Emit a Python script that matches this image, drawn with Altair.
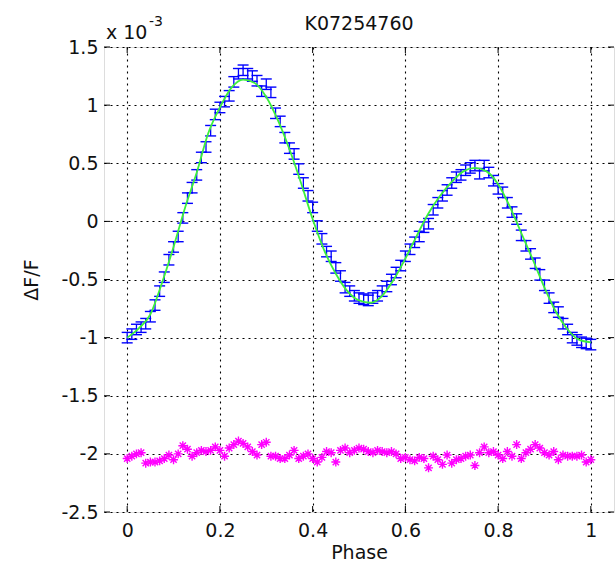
import altair as alt
import pandas as pd

# ---- data (values in units of 1e-3) ----
phase_blue = [i / 100 for i in range(101)]
flux_blue = [
    -1.00, -0.97, -0.93, -0.91, -0.88, -0.82, -0.72, -0.60, -0.48, -0.33,
    -0.22, -0.13, 0.03, 0.20, 0.29, 0.40, 0.55, 0.64, 0.78, 0.92,
    0.98, 1.03, 1.08, 1.20, 1.27, 1.30, 1.27, 1.25, 1.21, 1.12,
    1.18, 1.11, 0.93, 0.86, 0.72, 0.63, 0.58, 0.45, 0.33, 0.22,
    0.12, -0.04, -0.15, -0.26, -0.30, -0.40, -0.47, -0.57, -0.60, -0.64,
    -0.66, -0.67, -0.68, -0.66, -0.64, -0.60, -0.56, -0.50, -0.44, -0.38,
    -0.30, -0.24, -0.18, -0.13, -0.05, -0.02, 0.10, 0.16, 0.22, 0.27,
    0.33, 0.38, 0.40, 0.44, 0.46, 0.48, 0.41, 0.48, 0.42, 0.35,
    0.28, 0.25, 0.16, 0.08, 0.02, -0.12, -0.21, -0.28, -0.36, -0.46,
    -0.55, -0.66, -0.74, -0.78, -0.88, -0.93, -1.00, -1.02, -1.04, -1.05,
    -1.06,
]
err_blue = 0.045

phase_fit = [i * 0.025 for i in range(41)]
flux_fit = [
    -1.00, -0.92, -0.80, -0.53, -0.22, 0.12, 0.42, 0.76, 0.98, 1.15,
    1.22, 1.19, 1.07, 0.87, 0.62, 0.33, 0.02, -0.25, -0.45, -0.60,
    -0.68, -0.70, -0.64, -0.50, -0.32, -0.12, 0.07, 0.22, 0.34, 0.43,
    0.46, 0.43, 0.32, 0.13, -0.10, -0.33, -0.57, -0.78, -0.93, -1.02,
    -1.04,
]

phase_mag = [i / 100 for i in range(101)]
flux_mag = [
    -2.04, -2.02, -2.00, -1.99, -2.08, -2.07, -2.07, -2.06, -2.04, -2.01,
    -2.05, -2.00, -1.93, -1.96, -2.02, -1.99, -1.97, -1.98, -1.97, -1.94,
    -1.97, -2.02, -1.95, -1.92, -1.89, -1.91, -1.94, -1.98, -2.01, -1.92,
    -1.90, -2.02, -2.02, -2.04, -2.04, -2.01, -1.97, -2.04, -2.02, -2.00,
    -2.04, -2.07, -2.03, -1.98, -1.99, -2.07, -1.97, -1.95, -1.99, -1.97,
    -1.95, -1.96, -1.98, -1.99, -1.97, -1.98, -1.99, -1.98, -2.00, -2.04,
    -2.03, -2.05, -2.06, -2.03, -2.04, -2.12, -2.02, -2.05, -2.09, -2.01,
    -2.08, -2.05, -2.04, -2.02, -2.01, -2.10, -1.99, -1.94, -1.99, -1.98,
    -2.01, -2.04, -1.98, -2.02, -1.92, -2.04, -1.99, -1.96, -1.92, -1.95,
    -1.99, -2.01, -1.98, -2.05, -2.01, -2.02, -2.02, -2.02, -2.01, -2.07,
    -2.05,
]

x_ticks = [0, 0.2, 0.4, 0.6, 0.8, 1]
y_ticks = [-2.5, -2, -1.5, -1, -0.5, 0, 0.5, 1, 1.5]
title_text = ["K07254760"]

W, H = 510, 465
FONT = "DejaVu Sans"
FS = 19

blue_df = pd.DataFrame({"phase": phase_blue, "flux": flux_blue})
blue_df["lo"] = blue_df["flux"] - err_blue
blue_df["hi"] = blue_df["flux"] + err_blue
fit_df = pd.DataFrame({"phase": phase_fit, "flux": flux_fit})
mag_df = pd.DataFrame({"phase": phase_mag, "flux": flux_mag})
xt_df = pd.DataFrame({"v": x_ticks})
yt_df = pd.DataFrame({"v": y_ticks})

xscale = alt.Scale(domain=[-0.05, 1.05], nice=False, zero=False)
yscale = alt.Scale(domain=[-2.5, 1.5], nice=False, zero=False)

grid_common = dict(
    grid=True, gridColor="#000000", gridDash=[2, 4], gridWidth=1.1, gridOpacity=1,
    domain=False, ticks=False, labelFont=FONT, labelFontSize=FS, labelColor="#111",
    titleFont=FONT, titleFontSize=FS, titleFontWeight="normal", titleColor="#111",
    labelExpr="datum.value + ''",
)
xaxis = alt.Axis(values=x_ticks, title="Phase", labelPadding=9,
                 titleX=W / 2, titleY=46, titleBaseline="alphabetic", **grid_common)
yaxis = alt.Axis(values=y_ticks, title="ΔF/F", labelPadding=6,
                 titleX=-73, titleY=H / 2, titleAngle=270, titleAlign="center",
                 titleBaseline="middle", **grid_common)

X = alt.X("phase:Q", scale=xscale, axis=xaxis)

bars = alt.Chart(blue_df).mark_rule(color="#0000ff", strokeWidth=1.3).encode(
    x=X, y=alt.Y("lo:Q", scale=yscale, axis=yaxis), y2="hi:Q"
)
cap_lo = alt.Chart(blue_df).mark_tick(color="#0000ff", orient="horizontal", size=11,
                                      thickness=1.4, opacity=1).encode(
    x=alt.X("phase:Q", scale=xscale), y=alt.Y("lo:Q", scale=yscale)
)
cap_hi = alt.Chart(blue_df).mark_tick(color="#0000ff", orient="horizontal", size=11,
                                      thickness=1.4, opacity=1).encode(
    x=alt.X("phase:Q", scale=xscale), y=alt.Y("hi:Q", scale=yscale)
)
fit = alt.Chart(fit_df).mark_line(color="#3cf03c", strokeWidth=1.8, interpolate="monotone").encode(
    x=alt.X("phase:Q", scale=xscale), y=alt.Y("flux:Q", scale=yscale)
)
asterisk = "M-1,0L1,0M0,-1L0,1M-0.7,-0.7L0.7,0.7M-0.7,0.7L0.7,-0.7"
mag = alt.Chart(mag_df).mark_point(shape=asterisk, size=80, color="#ff00ff", filled=False,
                                   strokeWidth=1.4, opacity=1).encode(
    x=alt.X("phase:Q", scale=xscale), y=alt.Y("flux:Q", scale=yscale)
)

tl = 6
yt_left = alt.Chart(yt_df).mark_rule(color="#000", strokeWidth=1).encode(
    y=alt.Y("v:Q", scale=yscale), x=alt.value(0), x2=alt.value(tl))
yt_right = alt.Chart(yt_df).mark_rule(color="#000", strokeWidth=1).encode(
    y=alt.Y("v:Q", scale=yscale), x=alt.value(W - tl), x2=alt.value(W))
xt_bot = alt.Chart(xt_df).mark_rule(color="#000", strokeWidth=1).encode(
    x=alt.X("v:Q", scale=xscale), y=alt.value(H), y2=alt.value(H - tl))
xt_top = alt.Chart(xt_df).mark_rule(color="#000", strokeWidth=1).encode(
    x=alt.X("v:Q", scale=xscale), y=alt.value(0), y2=alt.value(tl))

title_mark = alt.Chart(pd.DataFrame({"t": title_text})).mark_text(
    font=FONT, fontSize=FS, align="center", baseline="alphabetic", color="#111"
).encode(text="t:N", x=alt.value(W / 2), y=alt.value(-17))
exp_base = alt.Chart(pd.DataFrame({"t": ["x 10"]})).mark_text(
    font=FONT, fontSize=FS, align="left", baseline="alphabetic", color="#111"
).encode(text="t:N", x=alt.value(2), y=alt.value(-8))
exp_sup = alt.Chart(pd.DataFrame({"t": ["-3"]})).mark_text(
    font=FONT, fontSize=14, align="left", baseline="alphabetic", color="#111"
).encode(text="t:N", x=alt.value(45), y=alt.value(-21))

chart = alt.layer(
    bars, cap_lo, cap_hi, fit, mag, yt_left, yt_right, xt_bot, xt_top,
    title_mark, exp_base, exp_sup
).properties(
    width=W, height=H,
    autosize=alt.AutoSizeParams(type="none"),
    padding={"left": 104, "top": 47, "right": 2, "bottom": 54},
).configure_view(stroke="#000", strokeWidth=1.2).configure(background="white")

chart.save("out.html", embed_options={"renderer": "svg", "actions": False})
